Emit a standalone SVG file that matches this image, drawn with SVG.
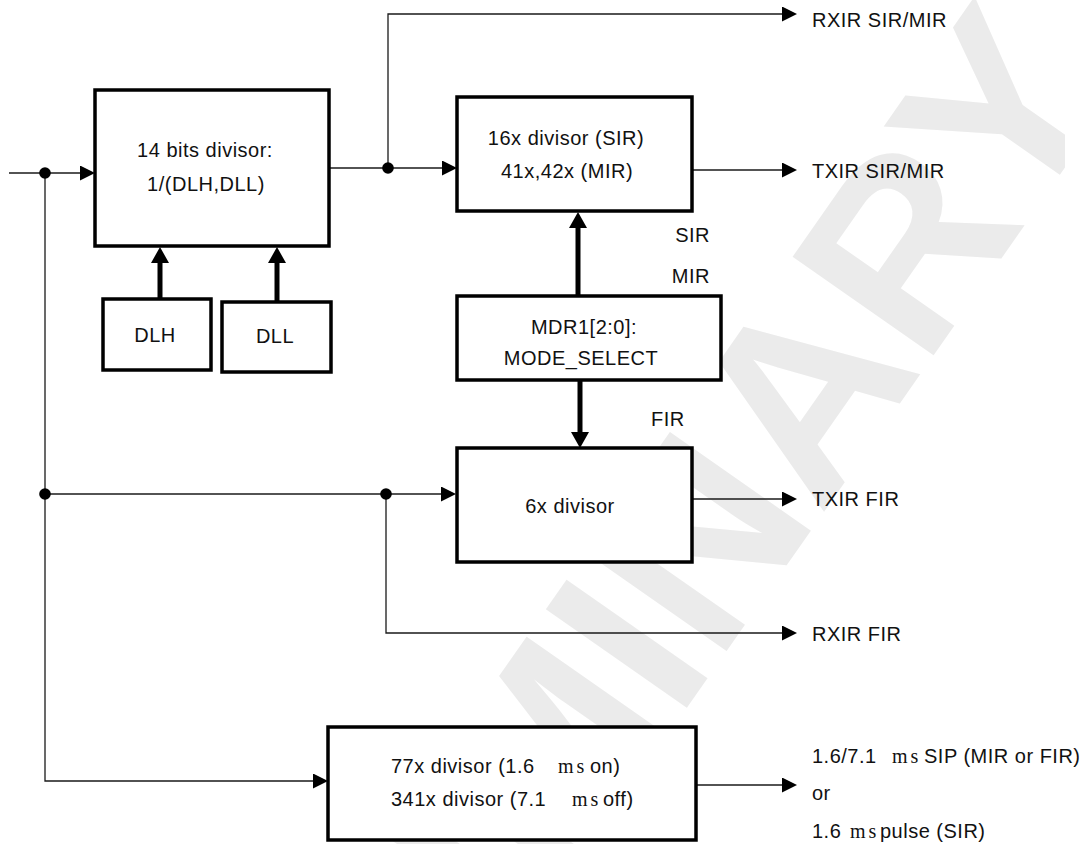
<svg xmlns="http://www.w3.org/2000/svg" width="1088" height="844" viewBox="0 0 1088 844">
<style>
.box{fill:#fff;stroke:#000;stroke-width:3.5}
.wire{fill:none;stroke:#1a1a1a;stroke-width:1.3}
.bus{fill:none;stroke:#000;stroke-width:5}
.t{font-family:"Liberation Sans",Arial,sans-serif;font-size:20px;letter-spacing:0.5px;fill:#111}
.ms{font-family:"Liberation Serif","Times New Roman",serif;font-size:20px;letter-spacing:3px;fill:#111}
.dot{fill:#000}
.wm{font-family:"Liberation Sans",Arial,sans-serif;font-weight:bold;font-size:250px;fill:#ebebeb}
</style>
<defs>
<marker id="ah" markerUnits="userSpaceOnUse" markerWidth="15" markerHeight="15" refX="0" refY="7.5" orient="auto">
<path d="M0,0 L15,7.5 L0,15 Z" fill="#000"/>
</marker>
<marker id="bh" markerUnits="userSpaceOnUse" markerWidth="16" markerHeight="18" refX="0" refY="9" orient="auto">
<path d="M0,0 L16,9 L0,18 Z" fill="#000"/>
</marker>
<clipPath id="wmclip"><rect x="0" y="0" width="1065" height="844"/></clipPath>
</defs>
<rect x="0" y="0" width="1088" height="844" fill="#fff"/>
<g id="watermark" clip-path="url(#wmclip)">
<text class="wm" text-anchor="end" transform="translate(1118,92) rotate(-55)">PRELIMINARY</text>
</g>
<g id="connectors">
<path class="wire" d="M9,173 H80" marker-end="url(#ah)"/>
<path class="wire" d="M45,173 V781 H313" marker-end="url(#ah)"/>
<path class="wire" d="M45,494 H441" marker-end="url(#ah)"/>
<path class="wire" d="M386,494 V633 H782" marker-end="url(#ah)"/>
<path class="wire" d="M329,168 H442" marker-end="url(#ah)"/>
<path class="wire" d="M388,168 V14 H782" marker-end="url(#ah)"/>
<path class="wire" d="M692,170 H782" marker-end="url(#ah)"/>
<path class="wire" d="M692,499 H782" marker-end="url(#ah)"/>
<path class="wire" d="M696,785 H782" marker-end="url(#ah)"/>
<path class="bus" d="M160,299 V263" marker-end="url(#bh)"/>
<path class="bus" d="M277,302 V263" marker-end="url(#bh)"/>
<path class="bus" d="M578,296 V228" marker-end="url(#bh)"/>
<path class="bus" d="M580,380 V432" marker-end="url(#bh)"/>
<circle class="dot" cx="45" cy="173" r="5.8"/>
<circle class="dot" cx="388" cy="168" r="5.8"/>
<circle class="dot" cx="45" cy="494" r="5.8"/>
<circle class="dot" cx="386" cy="494" r="5.8"/>
</g>
<g id="node-divisor14">
<rect class="box" x="95" y="90" width="234" height="156"/>
<text class="t" x="205" y="157" text-anchor="middle">14 bits divisor:</text>
<text class="t" x="206" y="191" text-anchor="middle">1/(DLH,DLL)</text>
</g>
<g id="node-dlh">
<rect class="box" x="103" y="299" width="108" height="71"/>
<text class="t" x="155" y="342" text-anchor="middle">DLH</text>
</g>
<g id="node-dll">
<rect class="box" x="222" y="302" width="109" height="70"/>
<text class="t" x="275" y="343" text-anchor="middle">DLL</text>
</g>
<g id="node-div16">
<rect class="box" x="457" y="97" width="235" height="114"/>
<text class="t" x="566" y="145" text-anchor="middle">16x divisor (SIR)</text>
<text class="t" x="567" y="178" text-anchor="middle">41x,42x (MIR)</text>
</g>
<g id="node-mdr1">
<rect class="box" x="457" y="296" width="264" height="84"/>
<text class="t" x="584" y="334" text-anchor="middle">MDR1[2:0]:</text>
<text class="t" x="581" y="365" text-anchor="middle">MODE_SELECT</text>
</g>
<g id="node-div6">
<rect class="box" x="457" y="448" width="235" height="114"/>
<text class="t" x="570" y="513" text-anchor="middle">6x divisor</text>
</g>
<g id="node-div77">
<rect class="box" x="328" y="727" width="368" height="113"/>
<text class="t" x="391" y="773">77x divisor (1.6</text>
<text class="ms" x="558" y="773">ms</text>
<text class="t" x="590" y="773">on)</text>
<text class="t" x="391" y="806">341x divisor (7.1</text>
<text class="ms" x="572" y="806">ms</text>
<text class="t" x="603" y="806">off)</text>
</g>
<g id="labels">
<text class="t" x="710" y="242" text-anchor="end">SIR</text>
<text class="t" x="710" y="283" text-anchor="end">MIR</text>
<text class="t" x="651" y="426">FIR</text>
<text class="t" x="812" y="27">RXIR SIR/MIR</text>
<text class="t" x="812" y="178">TXIR SIR/MIR</text>
<text class="t" x="812" y="506">TXIR FIR</text>
<text class="t" x="812" y="641">RXIR FIR</text>
<text class="t" x="812" y="763">1.6/7.1</text>
<text class="ms" x="892" y="763">ms</text>
<text class="t" x="924" y="763">SIP (MIR or FIR)</text>
<text class="t" x="812" y="800">or</text>
<text class="t" x="812" y="838">1.6</text>
<text class="ms" x="850" y="838">ms</text>
<text class="t" x="880" y="838">pulse (SIR)</text>
</g>
</svg>
